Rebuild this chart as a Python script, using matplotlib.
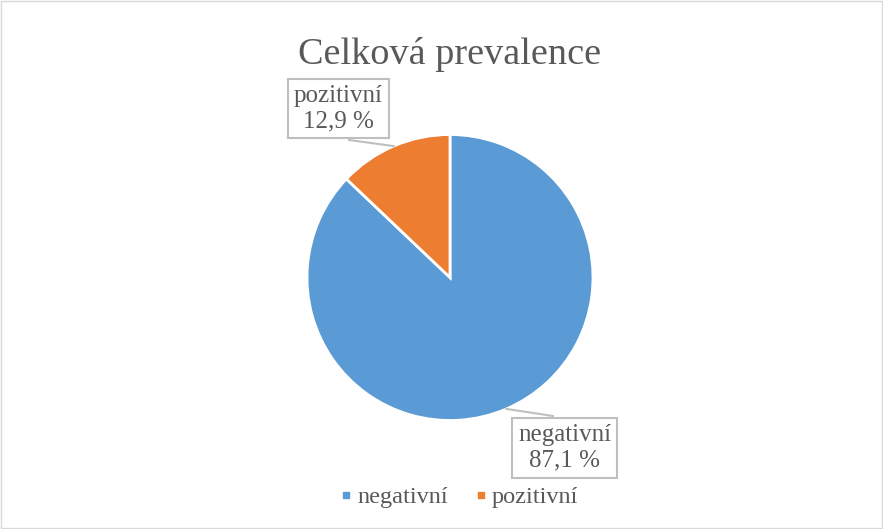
import matplotlib.pyplot as plt
from matplotlib.lines import Line2D
import numpy as np

# chart data
categories = ["negativní", "pozitivní"]
shares = [87.1, 12.9]
colors = ["#5B9BD5", "#ED7D31"]
title = "Celková prevalence"

plt.rcParams["font.family"] = ["Liberation Serif", "DejaVu Serif"]
text_color = "#595959"
box_color = "#BFBFBF"

W, H = 883, 529
fig = plt.figure(figsize=(W / 100, H / 100), dpi=100)
ax = fig.add_axes([0, 0, 1, 1])

# outer frame of the chart
ax.add_patch(plt.Rectangle((1, 1), W - 2, H - 2, fill=False, ec="#D9D9D9", lw=1))

cx, cy, r = 450, H - 277.5, 143
wedges, _ = ax.pie(shares, colors=colors, startangle=90, counterclock=False,
                   center=(cx, cy), radius=r, frame=True,
                   wedgeprops=dict(edgecolor="white", linewidth=2))
ax.set_xlim(0, W)
ax.set_ylim(0, H)
ax.set_aspect("equal")
ax.axis("off")

ax.text(cx, H - 55, title, ha="center", va="center", fontsize=27.5, color=text_color)

# data labels with leader lines
label_pos = {"negativní": (564.5, H - 448), "pozitivní": (338.5, H - 108.5)}
anchor_pos = {"negativní": (553, H - 416), "pozitivní": (349, H - 140)}
for w, cat, val in zip(wedges, categories, shares):
    mid = np.deg2rad((w.theta1 + w.theta2) / 2)
    px, py = cx + r * np.cos(mid), cy + r * np.sin(mid)
    ax_, ay_ = anchor_pos[cat]
    ax.plot([px, ax_], [py, ay_], color=box_color, lw=1.5, zorder=1)
    lx, ly = label_pos[cat]
    ax.text(lx, ly, f"{cat}\n{str(val).replace('.', ',')} %", ha="center", va="center",
            fontsize=18, color=text_color, linespacing=1.2, zorder=3,
            bbox=dict(boxstyle="square,pad=0.25", fc="white", ec=box_color, lw=1.5))

handles = [Line2D([], [], marker="s", ls="", color=c, markersize=5) for c in colors]
ax.legend(handles, categories, loc="center", bbox_to_anchor=(458 / W, 1 - 497 / H),
          ncol=2, frameon=False, fontsize=17.5, labelcolor=text_color,
          handletextpad=0.1, columnspacing=1.0, handlelength=0.7)

fig.savefig("out.png", dpi=100)
